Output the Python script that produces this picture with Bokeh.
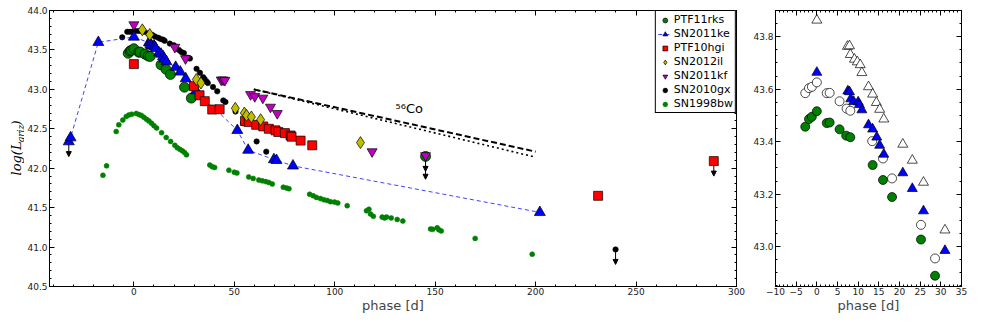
import numpy as np
from bokeh.plotting import figure
from bokeh.layouts import row
from bokeh.models import (ColumnDataSource, Label, Legend, LegendItem, LinearAxis, Arrow,
                          NormalHead, SingleIntervalTicker, NumeralTickFormatter,
                          CustomJSTickFormatter, CustomLabelingPolicy)
from bokeh.embed import file_html
from bokeh.resources import INLINE

# ---------------- data (phase [d], log L) ----------------
RKS_PH = [-2.8, -1.9, -1.2, 0.0, 2.4, 3.1, 5.5, 7.1, 8.1, 13.5, 16.0, 18.2, 25.2, 28.6, 145.2]
RKS_L = [43.457, 43.486, 43.495, 43.516, 43.471, 43.473, 43.447, 43.423, 43.417, 43.311,
         43.254, 43.189, 43.027, 42.889, 42.15]
RKS_UL = [0, 0, 0, 0, 0, 0, 0, 0, 0, 0, 0, 0, 0, 0, 1]
# right panel, alternative (open) values of PTF11rks
RKS2_PH = [-2.8, -1.9, -1.2, 0.0, 2.4, 3.1, 5.5, 7.2, 8.1, 13.4, 16.0, 18.2, 25.2, 28.6]
RKS2_L = [43.585, 43.604, 43.609, 43.626, 43.585, 43.586, 43.554, 43.526, 43.518, 43.402,
          43.336, 43.260, 43.083, 42.955]

KE_PH = [-32.4, -31.5, -17.7, 0.0, 7.5, 7.9, 8.2, 8.9, 10.0, 10.3, 10.9, 12.5, 13.5, 14.5,
         15.2, 16.2, 20.8, 23.1, 25.8, 31.0, 51.5, 56.9, 69.7, 71.0, 79.2, 202.1]
KE_L = [42.337, 42.387, 43.597, 43.664, 43.593, 43.590, 43.563, 43.553, 43.551, 43.541,
        43.521, 43.464, 43.448, 43.417, 43.386, 43.352, 43.281, 43.221, 43.136, 42.985,
        42.48, 42.23, 42.11, 42.10, 42.03, 41.44]
KE_UL = [1, 0, 0, 0, 0, 0, 0, 0, 0, 0, 0, 0, 0, 0, 0, 0, 0, 0, 0, 0, 0, 0, 0, 0, 0, 0]
# right panel, alternative (open) values of SN2011ke
KE2_PH = [0.0, 7.4, 7.9, 8.1, 9.1, 9.8, 10.5, 10.9, 12.5, 13.5, 14.4, 15.2, 16.2, 20.8,
          23.1, 25.8, 31.0]
KE2_L = [43.863, 43.763, 43.765, 43.732, 43.714, 43.704, 43.693, 43.663, 43.609, 43.581,
         43.549, 43.523, 43.486, 43.390, 43.329, 43.245, 43.063]

HGI_PH = [0.0, 29.9, 32.7, 35.3, 39.0, 42.7, 55.3, 57.2, 60.9, 64.4, 67.2, 70.5, 71.9, 75.2,
          78.0, 78.5, 83.0, 88.8, 231.1, 288.7]
HGI_L = [43.32, 43.04, 42.925, 42.85, 42.744, 42.748, 42.60, 42.585, 42.55, 42.53, 42.50,
         42.48, 42.46, 42.445, 42.415, 42.40, 42.35, 42.29, 41.65, 42.09]
HGI_UL = [0] * 19 + [1]

IL_PH = [4.2, 7.9, 31.1, 33.4, 50.5, 55.0, 56.1, 58.5, 63.1, 112.8]
IL_L = [43.755, 43.695, 43.125, 43.08, 42.76, 42.70, 42.67, 42.65, 42.615, 42.325]

KF_PH = [0.0, 20.4, 25.7, 43.5, 44.4, 45.3, 58.1, 60.2, 64.2, 68.0, 71.4, 118.6, 145.2]
KF_L = [43.82, 43.535, 43.39, 43.12, 43.12, 43.115, 42.935, 42.91, 42.89, 42.775, 42.695,
        42.21, 42.16]
KF_UL = [0] * 12 + [1]

GX_PH = [-5.8, -3.3, -2.0, -0.8, 0.8, 2.5, 5.0, 7.0, 9.2, 10.5, 12.1, 13.3, 14.6, 15.3,
         17.9, 19.9, 22.4, 23.6, 24.9, 26.9, 27.9, 31.2, 32.9, 34.5, 35.2, 36.2, 36.8,
         39.4, 41.5, 44.5, 45.6, 50.6, 54.4, 61.1, 65.9, 239.8]
GX_L = [43.66, 43.73, 43.73, 43.73, 43.74, 43.74, 43.73, 43.71, 43.69, 43.67, 43.655,
        43.64, 43.63, 43.615, 43.58, 43.56, 43.50, 43.475, 43.46, 43.40, 43.39, 43.26,
        43.21, 43.155, 43.13, 43.10, 43.08, 43.03, 42.975, 42.86, 42.84, 42.72, 42.57,
        42.34, 42.21, 40.97]
GX_UL = [0] * 35 + [1]

BW_PH = [-15.4, -13.6, -8.8, -7.5, -5.5, -3.8, -2.5, -1.1, 1.2, 2.5, 3.7, 5.0, 6.3, 7.5, 8.8,
         10.0, 11.3, 13.8, 16.1, 18.3, 20.4, 21.6, 22.9, 24.1, 25.2, 26.2, 37.8, 39.0, 40.2,
         47.3, 50.0, 51.3, 57.2, 59.4, 62.2, 63.9, 65.6, 67.2, 68.9, 74.4, 76.0, 77.2, 87.5,
         89.3, 90.9, 92.9, 94.6, 96.3, 97.9, 99.9, 101.5, 106.2, 115.8, 117.0, 117.8, 119.2,
         123.6, 124.8, 125.8, 128.1, 131.1, 133.9, 147.7, 148.8, 151.0, 151.8, 153.0, 169.9,
         198.3]
BW_L = [41.91, 42.03, 42.465, 42.55, 42.61, 42.655, 42.675, 42.685, 42.695, 42.68, 42.67,
        42.645, 42.62, 42.60, 42.57, 42.54, 42.51, 42.45, 42.39, 42.34, 42.29, 42.26, 42.24,
        42.22, 42.20, 42.17, 42.04, 42.02, 42.01, 41.975, 41.95, 41.94, 41.89, 41.87, 41.85,
        41.84, 41.83, 41.82, 41.80, 41.76, 41.75, 41.74, 41.67, 41.65, 41.63, 41.615, 41.60,
        41.59, 41.575, 41.57, 41.56, 41.525, 41.46, 41.48, 41.42, 41.39, 41.38, 41.37, 41.38,
        41.37, 41.35, 41.33, 41.23, 41.225, 41.245, 41.22, 41.205, 41.11, 40.91]

# 56Co decay guide lines
CO_PH = [59.7, 200.0]
CO_DASH_L = [43.00, 42.21]
CO_DOT_L = [43.00, 42.14]

LEFT_XLIM = (-42, 300)
LEFT_YLIM = (40.5, 44.0)
RIGHT_XLIM = (-10, 35)
RIGHT_YLIM = (42.848, 43.9)

# ---------------- styling ----------------
FONT = "DejaVu Sans"
GREEN = "#008000"
BLUE = "#0000ff"
RED = "#ff0000"
YELLOW = "#bfbf00"
MAGENTA = "#bf00bf"
ARROW_LEN = {"default": 0.19, "SN2011kf": 0.30}
H = 315

HIDE_ALL = CustomLabelingPolicy(code="for (const i of indices) indices.unset(i); return indices")


def style_axis(ax, hide_labels=False):
    ax.major_tick_in = 5
    ax.major_tick_out = 0
    ax.minor_tick_in = 2
    ax.minor_tick_out = 0
    ax.axis_line_color = "black"
    ax.major_tick_line_color = "black"
    ax.minor_tick_line_color = "black"
    ax.major_label_text_font = FONT
    ax.major_label_text_font_size = "9px"
    ax.major_label_text_line_height = 1.0
    ax.major_label_text_color = "#222222"
    ax.major_label_standoff = 2
    if hide_labels:
        ax.major_label_policy = HIDE_ALL
        ax.major_label_text_font_size = "1px"
        ax.major_label_standoff = 0


def setup(p, xint, xminor, yint, yminor, minus=False):
    p.xgrid.visible = False
    p.ygrid.visible = False
    p.outline_line_color = "black"
    p.outline_line_alpha = 1.0
    p.outline_line_width = 1
    p.background_fill_color = "white"
    p.border_fill_color = "white"
    xa = p.xaxis[0]
    ya = p.yaxis[0]
    xa.ticker = SingleIntervalTicker(interval=xint, num_minor_ticks=xminor)
    ya.ticker = SingleIntervalTicker(interval=yint, num_minor_ticks=yminor)
    ya.formatter = NumeralTickFormatter(format="0.0")
    if minus:
        xa.formatter = CustomJSTickFormatter(code="return String(tick).replace('-', '\u2212');")
    style_axis(xa)
    style_axis(ya)
    xa.major_label_standoff = 1
    xa.axis_label = "phase [d]"
    xa.axis_label_text_font = FONT
    xa.axis_label_text_font_size = "13px"
    xa.axis_label_text_line_height = 1.0
    xa.axis_label_text_font_style = "normal"
    xa.axis_label_standoff = 0
    top = LinearAxis(ticker=SingleIntervalTicker(interval=xint, num_minor_ticks=xminor))
    right = LinearAxis(ticker=SingleIntervalTicker(interval=yint, num_minor_ticks=yminor))
    style_axis(top, True)
    style_axis(right, True)
    p.add_layout(top, "above")
    p.add_layout(right, "right")


def limit_arrows(p, series):
    xs, ys, ye = [], [], []
    for name, ph, lum, ul in series:
        ln = ARROW_LEN.get(name, ARROW_LEN["default"])
        for a, b, u in zip(ph, lum, ul):
            if u:
                xs.append(a)
                ys.append(b)
                ye.append(b - ln)
    src = ColumnDataSource(dict(x=xs, y0=ys, y1=ye))
    arr = Arrow(end=NormalHead(size=5, fill_color="black", line_color="black", line_width=1),
                source=src, x_start="x", y_start="y0", x_end="x", y_end="y1",
                line_color="black", line_width=1, level="underlay")
    p.add_layout(arr)


# ---------------- y-label strip ----------------
strip = figure(width=24, height=H, x_range=(0, 1), y_range=(0, 1), x_axis_type=None,
               y_axis_type=None, output_backend="svg", toolbar_location=None,
               min_border_left=0, min_border_right=0, min_border_top=0, min_border_bottom=0)
strip.outline_line_color = None
strip.xgrid.visible = False
strip.ygrid.visible = False
for txt, dx, dy, fs in [("log(L", 16, 111, "13px"), ("griz", 20, 144, "9px"),
                        (")", 16, 161, "13px")]:
    strip.add_layout(Label(x=dx, y=dy, x_units="screen", y_units="screen", text=txt,
                           angle=np.pi / 2, text_font="DejaVu Serif",
                           text_font_style="italic", text_font_size=fs, text_align="left",
                           text_baseline="middle", text_color="black"))

# ---------------- left panel ----------------
p1 = figure(width=724, height=H, x_range=LEFT_XLIM, y_range=LEFT_YLIM,
            output_backend="svg", toolbar_location=None,
            min_border_left=24, min_border_right=12, min_border_top=10, min_border_bottom=0)
setup(p1, 50, 5, 0.5, 5)

limit_arrows(p1, [("PTF11rks", RKS_PH, RKS_L, RKS_UL),
                  ("SN2011ke", KE_PH, KE_L, KE_UL),
                  ("PTF10hgi", HGI_PH, HGI_L, HGI_UL),
                  ("SN2011kf", KF_PH, KF_L, KF_UL),
                  ("SN2010gx", GX_PH, GX_L, GX_UL)])

p1.line(CO_PH, CO_DASH_L, line_color="black", line_width=2, line_dash="6 3")
p1.line(CO_PH, CO_DOT_L, line_color="black", line_width=1.6, line_dash="2 3")
p1.add_layout(Label(x=130.3, y=42.756, text="\u2075\u2076Co", text_font=FONT,
                    text_font_size="13px", text_baseline="middle", text_align="left",
                    text_color="black"))

r_bw = p1.scatter(BW_PH, BW_L, marker="circle", size=5, fill_color=GREEN, line_color=GREEN,
                  line_width=0.5)
r_gx = p1.scatter(GX_PH, GX_L, marker="circle", size=5.5, fill_color="black",
                  line_color="black", line_width=0.5)
r_ke_line = p1.line(KE_PH, KE_L, line_color=BLUE, line_alpha=0.75, line_width=1,
                    line_dash="4 3")
r_rks = p1.scatter(RKS_PH, RKS_L, marker="circle", size=10, fill_color=GREEN,
                   line_color="black", line_width=0.7)
r_ke = p1.scatter(KE_PH, KE_L, marker="triangle", size=11, fill_color=BLUE,
                  line_color="black", line_width=0.7)
r_hgi = p1.scatter(HGI_PH, HGI_L, marker="square", size=9, fill_color=RED,
                   line_color="black", line_width=0.7)
r_il = p1.scatter(IL_PH, IL_L, marker="diamond", size=12, fill_color=YELLOW,
                  line_color="black", line_width=0.7)
r_kf = p1.scatter(KF_PH, KF_L, marker="inverted_triangle", size=10, fill_color=MAGENTA,
                  line_color="black", line_width=0.7)

legend = Legend(items=[
    LegendItem(label="PTF11rks", renderers=[r_rks]),
    LegendItem(label="SN2011ke", renderers=[r_ke_line, r_ke]),
    LegendItem(label="PTF10hgi", renderers=[r_hgi]),
    LegendItem(label="SN2012il", renderers=[r_il]),
    LegendItem(label="SN2011kf", renderers=[r_kf]),
    LegendItem(label="SN2010gx", renderers=[r_gx]),
    LegendItem(label="SN1998bw", renderers=[r_bw]),
], location="top_right", margin=0, padding=2, spacing=1, label_standoff=2,
    glyph_width=14, glyph_height=12, label_height=12,
    label_text_font=FONT, label_text_font_size="11px", label_text_color="black",
    border_line_color="black", border_line_width=1, border_line_alpha=1,
    background_fill_color="white", background_fill_alpha=1)
p1.add_layout(legend)

# ---------------- right panel ----------------
p2 = figure(width=225, height=H, x_range=RIGHT_XLIM, y_range=RIGHT_YLIM,
            output_backend="svg", toolbar_location=None,
            min_border_left=27, min_border_right=12, min_border_top=10, min_border_bottom=0)
setup(p2, 5, 5, 0.2, 4, minus=True)

p2.scatter(RKS2_PH, RKS2_L, marker="circle", size=9, fill_color="white",
           line_color="black", line_width=0.7)
p2.scatter(KE2_PH, KE2_L, marker="triangle", size=10, fill_color="white",
           line_color="black", line_width=0.7)
p2.scatter(RKS_PH, RKS_L, marker="circle", size=9, fill_color=GREEN,
           line_color="black", line_width=0.7)
p2.scatter(KE_PH, KE_L, marker="triangle", size=10, fill_color=BLUE,
           line_color="black", line_width=0.7)

layout = row(strip, p1, p2)
open("out.html", "w").write(file_html(layout, INLINE))
